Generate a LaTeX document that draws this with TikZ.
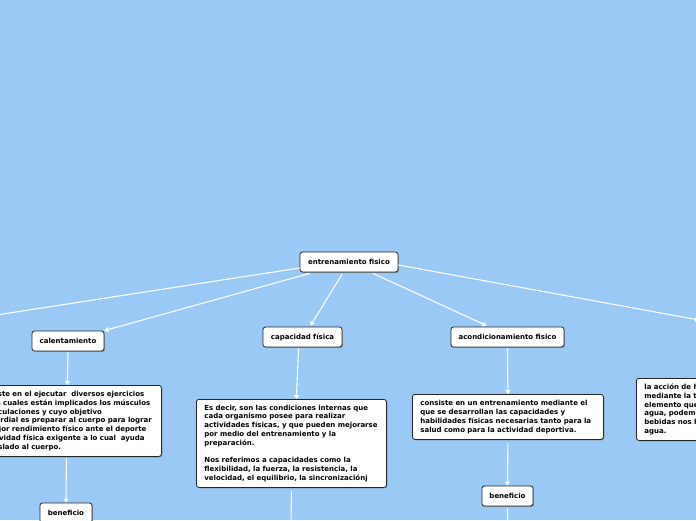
\documentclass[tikz,border=0pt]{standalone}
\usepackage{fontspec}
\setmainfont{DejaVu Sans}
\usetikzlibrary{shadows,arrows.meta}
\definecolor{bg}{RGB}{155,201,245}
\tikzset{
 box/.style={draw=black!85, fill=white, rounded corners=2.5pt, line width=0.8pt,
   font=\bfseries\fontsize{7}{8.8}\selectfont,
   drop shadow={shadow xshift=0.9pt,shadow yshift=-0.9pt,fill=black!60,opacity=0.6}},
 lbl/.style={box, minimum height=20pt, inner xsep=0pt, inner ysep=0pt},
 desc/.style={box, anchor=north west, align=left, inner xsep=8pt, inner ysep=5pt},
 conn/.style={draw=white, line width=1.1pt},
 arr/.style={conn, -{Triangle[width=5pt,length=4pt]}},
}
\begin{document}
\begin{tikzpicture}[x=1pt,y=-1pt]
\useasboundingbox (0,0) rectangle (696,520);
\fill[bg] (0,0) rectangle (696,520);
\clip (0,0) rectangle (696,520);
% label nodes
\node[lbl, minimum width=98pt] (e) at (349,262) {entrenamiento fisico};
\node[lbl, minimum width=72pt] (cal) at (68,341) {calentamiento};
\node[lbl, minimum width=79pt] (cap) at (302.5,337) {capacidad física};
\node[lbl, minimum width=113pt] (aco) at (507.5,337) {acondicionamiento fisico};
\node[lbl, minimum width=52pt] (b1) at (66,513) {beneficio};
\node[lbl, minimum width=51pt] (b2) at (507.5,496) {beneficio};
\coordinate (L) at (-10,316);
\coordinate (R) at (699,320);
\coordinate (C) at (291,530);
\coordinate (B) at (508,530);
% description nodes
\node[desc, text width=180pt, inner xsep=4pt, minimum height=71pt] (cd) at (-27,385)
 {consiste en el ejecutar\ \ diversos ejercicios\\
  en los cuales están implicados los músculos\\
  y articulaciones y cuyo objetivo\\
  primordial es preparar al cuerpo para lograr\\
  el mejor rendimiento físico ante el deporte\\
  o actividad física exigente a lo cual\ \ ayuda\\
  el traslado al cuerpo.};
\node[desc, text width=174pt, minimum height=88pt] (capd) at (196,399)
 {Es decir, son las condiciones internas que\\
  cada organismo posee para realizar\\
  actividades físicas, y que pueden mejorarse\\
  por medio del entrenamiento y la\\
  preparación.\\[8.8pt]
  Nos referimos a capacidades como la\\
  flexibilidad, la fuerza, la resistencia, la\\
  velocidad, el equilibrio, la sincronizaciónj};
\node[desc, text width=175pt, minimum height=45pt] (acd) at (412,394)
 {consiste en un entrenamiento mediante el\\
  que se desarrollan las capacidades y\\
  habilidades físicas necesarias tanto para la\\
  salud como para la actividad deportiva.};
\node[desc, text width=150pt, minimum height=62pt] (rd) at (636,378)
 {la acción de hidratarse\\
  mediante la toma de\\
  elemento que\\
  agua, podemos\\
  bebidas nos hidratan\\
  agua.};
% connectors
\draw[arr] ([xshift=10pt,yshift=-1pt]e.south west) -- (cal.north east);
\draw[arr] ([xshift=-7pt,yshift=-2pt]e.south) -- ([xshift=8pt,yshift=1pt]cap.north);
\draw[arr] ([xshift=24pt,yshift=-1pt]e.south) -- ([xshift=-21pt,yshift=1pt]aco.north);
\draw[arr] ([yshift=-3pt]e.east) -- (R);
\draw[conn] ([yshift=-6pt]e.west) -- (L);
\draw[arr] ([yshift=-1pt]cal.south) -- (cd.north);
\draw[arr] ([xshift=-1pt,yshift=-1pt]cd.south) -- (b1.north);
\draw[arr] ([xshift=-4pt,yshift=-1pt]cap.south) -- ([xshift=5pt]capd.north);
\draw[conn] ([yshift=-3pt]capd.south) -- (C);
\draw[arr] ([yshift=-1pt]aco.south) -- (acd.north);
\draw[arr] ([yshift=-3pt]acd.south) -- (b2.north);
\draw[conn] ([yshift=-2pt]b2.south) -- (B);
\end{tikzpicture}
\end{document}
